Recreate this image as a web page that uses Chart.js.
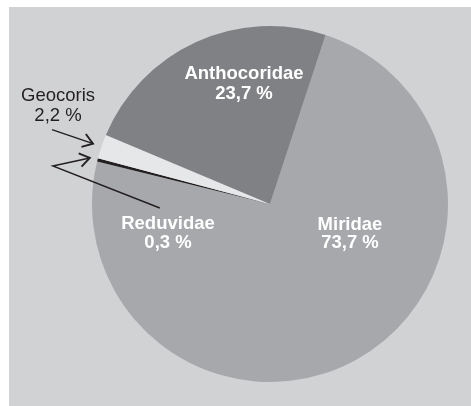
<!DOCTYPE html>
<html>
<head>
<meta charset="utf-8">
<script src="https://cdn.jsdelivr.net/npm/chart.js@4/dist/chart.umd.min.js"></script>
<style>
  html, body { margin: 0; padding: 0; background: #fff; }
  #wrap { width: 471px; height: 406px; position: relative; }
</style>
</head>
<body>
<div id="wrap"><canvas id="pieChart"></canvas></div>
<script>
// data, clockwise from the Miridae / Anthocoridae boundary
const categories = ["Miridae", "Reduvidae", "Geocoris", "Anthocoridae"];
const shares = [73.7, 0.3, 2.2, 23.7];
const sliceColours = ["#a7a8ab", "#231f20", "#e6e7e8", "#808184"];

const ink = "#231f20";
const pct = v => v.toFixed(1).replace(".", ",") + " %";

// label offsets from the pie centre, and text style per slice
const labelSpots = [
  { dx: 80, dy: 21, colour: "#ffffff", bold: true, gap: 18 },
  { dx: -102, dy: 20, colour: "#ffffff", bold: true, gap: 19 },
  { dx: -212, dy: -108, colour: ink, bold: false, gap: 20 },
  { dx: -26, dy: -130, colour: "#ffffff", bold: true, gap: 20 }
];

const ctx = document.getElementById("pieChart").getContext("2d");

const panel = {
  id: "panel",
  beforeDraw: chart => {
    const c = chart.ctx;
    c.save();
    c.fillStyle = "#d1d2d4";
    c.fillRect(9, 7, chart.width - 9, chart.height - 7);
    c.restore();
  }
};

function arrowHead(c, fx, fy, tx, ty) {
  const a = Math.atan2(ty - fy, tx - fx);
  const len = 12, spread = 0.6;
  c.save();
  c.lineWidth = 1.9;
  c.beginPath();
  c.moveTo(tx - len * Math.cos(a - spread), ty - len * Math.sin(a - spread));
  c.lineTo(tx, ty);
  c.lineTo(tx - len * Math.cos(a + spread), ty - len * Math.sin(a + spread));
  c.stroke();
  c.restore();
}

const labels = {
  id: "labels",
  afterDatasetsDraw: chart => {
    const c = chart.ctx;
    const meta = chart.getDatasetMeta(0);
    const first = meta.data[0];
    const cx = first.x, cy = first.y, r = first.outerRadius;

    c.save();
    c.textAlign = "center";
    c.textBaseline = "middle";
    categories.forEach((name, i) => {
      const s = labelSpots[i];
      c.fillStyle = s.colour;
      c.font = (s.bold ? "bold " : "") + "18.5px 'Liberation Sans', Arial, sans-serif";
      c.fillText(name, cx + s.dx, cy + s.dy);
      c.fillText(pct(shares[i]), cx + s.dx, cy + s.dy + s.gap);
    });

    // arrows pointing at the two thin slices
    c.strokeStyle = ink;
    c.lineWidth = 1.4;
    const tipOf = (i, extra) => {
      const arc = meta.data[i];
      const mid = (arc.startAngle + arc.endAngle) / 2;
      return [cx + Math.cos(mid) * (r + extra), cy + Math.sin(mid) * (r + extra)];
    };

    // Geocoris
    let [tx, ty] = tipOf(2, 9);
    c.beginPath();
    c.moveTo(tx - 41, ty - 14);
    c.lineTo(tx, ty);
    c.stroke();
    arrowHead(c, tx - 41, ty - 14, tx, ty);

    // Reduvidae
    [tx, ty] = tipOf(1, 8);
    c.beginPath();
    c.moveTo(tx + 70, ty + 50);
    c.lineTo(tx - 37, ty + 8);
    c.lineTo(tx, ty);
    c.stroke();
    arrowHead(c, tx - 37, ty + 8, tx, ty);
    c.restore();
  }
};

const pieChart = new Chart(ctx, {
  type: "pie",
  plugins: [panel, labels],
  data: {
    labels: categories,
    datasets: [
      {
        data: shares,
        backgroundColor: sliceColours,
        borderWidth: 0
      }
    ]
  },
  options: {
    responsive: true,
    maintainAspectRatio: false,
    animation: false,
    events: [],
    rotation: 18.2,
    layout: {
      padding: { top: 26, bottom: 24, left: 92, right: 23 }
    },
    plugins: {
      legend: { display: false },
      tooltip: { enabled: false }
    }
  }
});
</script>
</body>
</html>
